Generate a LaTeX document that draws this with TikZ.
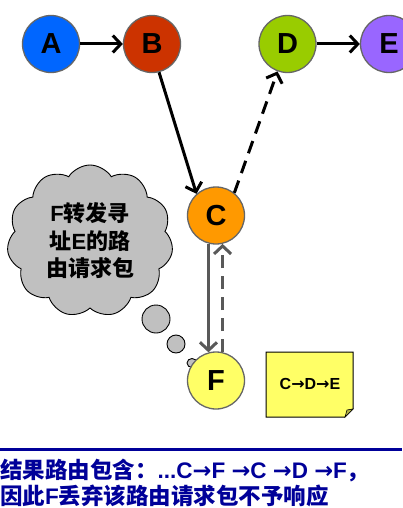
\documentclass[tikz,border=0pt]{standalone}
\usepackage{fontspec}
\setmainfont{Liberation Sans}
\newfontfamily\cjk{Noto Sans CJK SC}
\newfontfamily\arrfont{DejaVu Sans}
\newcommand{\ra}{{\arrfont\bfseries →}}
\usetikzlibrary{arrows.meta,shapes.symbols,shapes.geometric}
\definecolor{cA}{HTML}{0066FF}
\definecolor{cB}{HTML}{CC3300}
\definecolor{cC}{HTML}{FF9900}
\definecolor{cD}{HTML}{99CC00}
\definecolor{cE}{HTML}{9966FF}
\definecolor{cF}{HTML}{FFFF66}
\definecolor{rimgray}{HTML}{666666}
\definecolor{arrgray}{HTML}{595959}
\definecolor{cloudgray}{HTML}{C0C0C0}
\definecolor{navy}{HTML}{000099}
\tikzset{
  router/.style={circle, draw=rimgray, line width=1.3pt, minimum size=57pt, inner sep=0pt,
    font=\fontsize{29}{29}\selectfont\bfseries},
  blackarrow/.style={draw=black, line width=3pt, -{Straight Barb[length=8pt,width=17pt,line width=3pt]}},
  grayarrow/.style={draw=arrgray, line width=3pt, -{Straight Barb[length=8pt,width=17pt,line width=3pt]}},
  dashpat/.style={dash pattern=on 13pt off 8pt},
  bubble/.style={circle, draw=black, line width=0.9pt, fill=cloudgray, inner sep=0pt},
  bottomtext/.style={anchor=west, inner sep=0pt, text=navy, font=\fontsize{22.5}{25}\selectfont\bfseries},
}
\begin{document}
\begin{tikzpicture}[x=1pt,y=-1pt]
\useasboundingbox (0,0) rectangle (402,508);
\fill[white] (0,0) rectangle (402,508);
% cloud
\node[cloud, cloud puffs=11, cloud puff arc=115, aspect=1.05, draw=black, line width=0.9pt,
  fill=cloudgray, minimum width=166pt, minimum height=152pt, inner sep=0pt,
  align=center, font=\fontsize{22}{27.5}\selectfont\bfseries] (cloud) at (90,241)
  {F{\cjk 转发寻}\\{\cjk 址}E{\cjk 的路}\\{\cjk 由请求包}};
\node[bubble, minimum size=28pt] (b1) at (156,319) {};
\node[bubble, minimum size=18pt] (b2) at (176,344) {};
\node[ellipse, draw=black, line width=0.9pt, fill=cloudgray, inner sep=0pt, minimum width=10pt, minimum height=9pt] (b3) at (192,363) {};
% routers
\node[router, fill=cA] (A) at (51,44) {A};
\node[router, fill=cB] (B) at (152,44) {B};
\node[router, fill=cD] (D) at (287.5,44) {D};
\node[router, fill=cE] (E) at (389,44) {E};
\node[router, fill=cC] (C) at (216,215.5) {C};
\node[router, fill=cF] (F) at (216,380.5) {F};
% arrows
\draw[blackarrow] (A) -- (B);
\draw[blackarrow] (D) -- (E);
\draw[blackarrow] (B.284) -- (C.132);
\draw[blackarrow, dashpat] (C.51) -- (D.250);
\draw[grayarrow] (C.255) -- (F.105);
\draw[grayarrow, dashpat] (F.77) -- (C.283);
% note
\path[fill=cF, draw=black, line width=1pt] (266,352) -- (353,352) -- (353,409) -- (345,417) -- (266,417) -- cycle;
\path[fill=cF!70!black, draw=black, line width=0.6pt] (353,409) -- (347,410) -- (345,417) -- cycle;
\node[font=\fontsize{16}{16}\selectfont\bfseries, inner sep=0pt] (note) at (310,384) {C\ra D\ra E};
% bottom line and text
\draw[navy, line width=3pt] (0,449) -- (402,449);
\node[bottomtext] (t1) at (0,471) {{\cjk 结果路由包含：}...C\ra F \ra C \ra D \ra F{\cjk ，}};
\node[bottomtext] (t2) at (0,495.5) {{\cjk 因此}F{\cjk 丢弃该路由请求包不予响应}};
\end{tikzpicture}
\end{document}
